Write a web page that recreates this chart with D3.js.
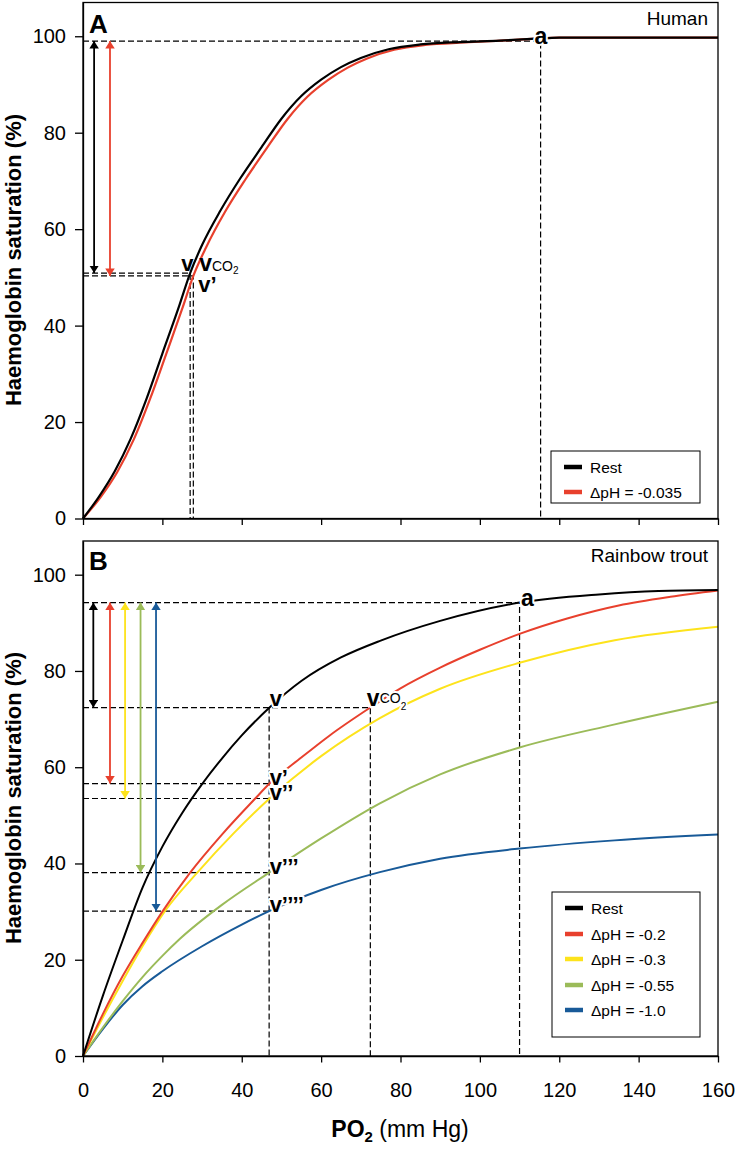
<!DOCTYPE html>
<html><head><meta charset="utf-8">
<script src="https://cdn.jsdelivr.net/npm/d3@7"></script>
<style>
html,body{margin:0;padding:0;background:#fff;}
text{font-family:"Liberation Sans",Arial,Helvetica,sans-serif;}
</style></head>
<body>
<svg id="chart" width="736" height="1149"></svg>
<script>
// ---------------- DATA ----------------
const xTicks = [0,20,40,60,80,100,120,140,160];
const yTicks = [0,20,40,60,80,100];

// Panel A – Human
const humanRestPO2 = [0,4,8,12,16,20,24,27,30,34.6,39.6,45,50,55,60,65,70,77,85,95,105,114,120,160];
const humanRestSat = [0,4.5,9.8,16.5,24.8,34.2,43.5,50.9,56.7,63.8,70.5,77.0,82.9,87.6,91.0,93.6,95.5,97.3,98.3,98.8,99.1,99.5,99.7,99.7];
const humanAcidPO2 = [0,4.4,8.6,12.8,16.9,21,25,27.8,31,35.8,41,46.4,51.5,56.6,61.7,66.7,71.6,78.4,86.2,96,105.5,114,120,160];
const humanAcidSat = [0,4.4,9.6,16.4,24.8,34.2,43.5,50.3,56.2,63.6,70.4,76.9,82.8,87.5,90.9,93.5,95.4,97.2,98.2,98.7,99.1,99.5,99.7,99.7];
const humanLegend = ["Rest","ΔpH = -0.035"];
const humanA = [115.3, 99.0];               // arterial point
const humanV = [[27.0, 50.9],[27.8, 50.3]]; // venous points (rest, acid)
const humanArrowPO2 = [2.8, 6.8];

// Panel B – Rainbow trout
const troutRestPO2 = [0,5,10,15,20,25,30,35,40,47,55,65,75,90,110,130,145,160];
const troutRestSat = [0,12.5,24,35,43.5,50.5,56.5,61.8,66.6,72.4,77.9,82.8,86.3,90.4,94.2,95.9,96.6,96.8];
const troutPH02PO2 = [0,5,10,15,20,27,35,43.4,47,55,62,72.4,80,90,100,110,122,135,148,160];
const troutPH02Sat = [0,8.7,16.6,23.5,30.0,38.1,46,53.5,56.6,62,66.5,72.4,76.4,80.7,84.4,87.7,90.9,93.6,95.4,96.7];
const troutPH03PO2 = [0,5,10,15,20.9,28.8,38,47,60,74.8,90,110,134,160];
const troutPH03Sat = [0,8,15.6,22.8,30.4,38.1,46.3,53.5,62.3,70.2,76.3,81.7,86.4,89.2];
const troutPH055PO2 = [0,5,10,15,20,24.5,35,46.9,60,74.8,90,110,134,160];
const troutPH055Sat = [0,5.9,11.4,16.4,20.8,24.4,31.4,38.1,45.2,52.5,58.5,64.1,68.9,73.6];
const troutPH10PO2 = [0,5,10,15,20,30,40,46.9,60,74.8,90,110,134,160];
const troutPH10Sat = [0,5.6,10.6,14.5,17.6,22.8,27.3,30.1,34.5,38.2,41,43.1,44.8,46];
const troutLegend = ["Rest","ΔpH = -0.2","ΔpH = -0.3","ΔpH = -0.55","ΔpH = -1.0"];
const troutA = [110, 94.2];
const troutVPO2 = 46.9;
const troutVSat = [72.4, 56.6, 53.5, 38.1, 30.1]; // v, v', v'', v''', v''''
const troutVLabels = ["v","v’","v’’","v’’’","v’’’’"];
const troutVCO2 = [72.4, 72.4];
const troutArrowPO2 = [2.6, 6.8, 10.6, 14.5, 18.4];

const colors = ["#000000","#e8402d","#fde31c","#9bbb59","#185a98"];

// ---------------- DRAW ----------------
const svg = d3.select("#chart");
svg.append("rect").attr("width",736).attr("height",1149).attr("fill","#fff");

const x = d3.scaleLinear().domain([0,160]).range([83,718]);
const yA = d3.scaleLinear().domain([0,107]).range([518.5,2.5]);
const yB = d3.scaleLinear().domain([0,107]).range([1056,541]);

const defs = svg.append("defs");
colors.forEach((c,i)=>{
  defs.append("marker").attr("id","ah"+i)
    .attr("viewBox","0 0 10 10").attr("refX",10).attr("refY",5)
    .attr("markerUnits","userSpaceOnUse").attr("markerWidth",7.5).attr("markerHeight",9.5)
    .attr("orient","auto-start-reverse").attr("preserveAspectRatio","none")
    .append("path").attr("d","M0,0L10,5L0,10Z").attr("fill",c);
});

function zip(xs,ys){return xs.map((d,i)=>[d,ys[i]]);}
const FONT = '"Liberation Sans",Arial,Helvetica,sans-serif';

function dashed(g, pts){
  g.append("path").attr("d", d3.line()(pts)).attr("fill","none")
   .attr("stroke","#000").attr("stroke-width",1.2).attr("stroke-dasharray","6,3");
}
function curve(g, y, xs, ys, color, w){
  const line = d3.line().x(d=>x(d[0])).y(d=>y(d[1])).curve(d3.curveMonotoneX);
  g.append("path").datum(zip(xs,ys)).attr("d",line).attr("fill","none")
   .attr("stroke",color).attr("stroke-width",w).attr("stroke-linejoin","round");
}
function arrow(g, px, y1, y2, ci){
  g.append("line").attr("x1",px).attr("x2",px).attr("y1",y1).attr("y2",y2)
   .attr("stroke",colors[ci]).attr("stroke-width",1.8)
   .attr("marker-start","url(#ah"+ci+")").attr("marker-end","url(#ah"+ci+")");
}
function halo(t){
  t.attr("stroke","#fff").attr("stroke-width",4).attr("paint-order","stroke").attr("stroke-linejoin","round");
}
function label(g, tx, ty, txt, size, useHalo){
  const t = g.append("text").attr("x",tx).attr("y",ty).attr("font-size",size)
    .attr("font-weight","bold").attr("fill","#000").text(txt);
  if(useHalo) halo(t);
  return t;
}
function vco2(g, tx, ty, raise, useHalo){
  const t = g.append("text").attr("x",tx).attr("y",ty).attr("fill","#000");
  if(useHalo) halo(t);
  t.append("tspan").attr("font-size",23).attr("font-weight","bold").text("v");
  t.append("tspan").attr("font-size",14).attr("dy",-raise).text("CO");
  t.append("tspan").attr("font-size",10).attr("dy",raise+3.5).text("2");
}
function axes(g, y, yBottom, showXLabels){
  const ay = g.append("g").attr("transform","translate(83,0)")
    .call(d3.axisLeft(y).tickValues(yTicks).tickSize(8).tickSizeOuter(0).tickPadding(9));
  const ax = g.append("g").attr("transform",`translate(0,${yBottom})`)
    .call(d3.axisBottom(x).tickValues(xTicks).tickSize(6.5).tickSizeOuter(0).tickPadding(20)
      .tickFormat(showXLabels ? d3.format("d") : ()=>""));
  [ay,ax].forEach(a=>{
    a.selectAll("text").attr("font-size",20).attr("font-family",FONT).attr("fill","#000");
    a.selectAll("line,path").attr("stroke","#000").attr("stroke-width",1.3);
  });
}
function frame(g, y){
  g.append("rect").attr("x",x(0)).attr("y",y(107)).attr("width",x(160)-x(0)).attr("height",y(0)-y(107))
   .attr("fill","none").attr("stroke","#000").attr("stroke-width",1.3);
}
function legend(g, bx, by, bw, bh, items, ys, cols){
  g.append("rect").attr("x",bx).attr("y",by).attr("width",bw).attr("height",bh)
    .attr("fill","#fff").attr("stroke","#000").attr("stroke-width",1);
  items.forEach((it,i)=>{
    g.append("line").attr("x1",bx+13).attr("x2",bx+31).attr("y1",ys[i]).attr("y2",ys[i])
      .attr("stroke",cols[i]).attr("stroke-width",4.5);
    g.append("text").attr("x",bx+39).attr("y",ys[i]+5.5).attr("font-size",15.5).attr("fill","#000").text(it);
  });
}
function yTitle(g, cy){
  g.append("text").attr("transform",`translate(21,${cy}) rotate(-90)`).attr("text-anchor","middle")
   .attr("font-size",22).attr("font-weight","bold").attr("fill","#000").text("Haemoglobin saturation (%)");
}

// ---- Panel A ----
const gA = svg.append("g");
dashed(gA, [[x(0),yA(humanA[1])],[x(humanA[0]),yA(humanA[1])],[x(humanA[0]),yA(0)]]);
dashed(gA, [[x(0),yA(humanV[0][1])],[x(humanV[0][0]),yA(humanV[0][1])],[x(humanV[0][0]),yA(0)]]);
dashed(gA, [[x(0),yA(humanV[1][1])],[x(humanV[1][0]),yA(humanV[1][1])],[x(humanV[1][0]),yA(0)]]);
curve(gA, yA, humanAcidPO2, humanAcidSat, colors[1], 2.2);
curve(gA, yA, humanRestPO2, humanRestSat, colors[0], 2.2);
arrow(gA, x(humanArrowPO2[0]), yA(humanA[1]), yA(humanV[0][1]), 0);
arrow(gA, x(humanArrowPO2[1]), yA(humanA[1]), yA(humanV[1][1]), 1);
label(gA, x(humanA[0])-6, yA(humanA[1])+2.5, "a", 23, true);
label(gA, x(humanV[0][0])-9, yA(humanV[0][1])-2.5, "v", 22, false);
vco2(gA, x(humanV[0][0])+9, yA(humanV[0][1])-2.5, 0, false);
label(gA, x(humanV[1][0])+5, yA(humanV[1][1])+16.5, "v’", 22, false);
label(gA, 89, 33, "A", 26, false);
gA.append("text").attr("x",708).attr("y",25).attr("text-anchor","end").attr("font-size",19).attr("fill","#000").text("Human");
legend(gA, 551, 451, 149, 52, humanLegend, [467,492], colors.slice(0,2));
frame(gA, yA);
axes(gA, yA, yA(0), false);
yTitle(gA, 260);

// ---- Panel B ----
const gB = svg.append("g");
dashed(gB, [[x(0),yB(troutA[1])],[x(troutA[0]),yB(troutA[1])],[x(troutA[0]),yB(0)]]);
dashed(gB, [[x(0),yB(troutVCO2[1])],[x(troutVCO2[0]),yB(troutVCO2[1])],[x(troutVCO2[0]),yB(0)]]);
dashed(gB, [[x(troutVPO2),yB(troutVSat[0])],[x(troutVPO2),yB(0)]]);
troutVSat.slice(1).forEach(s=>dashed(gB, [[x(0),yB(s)],[x(troutVPO2),yB(s)]]));
curve(gB, yB, troutPH10PO2, troutPH10Sat, colors[4], 2);
curve(gB, yB, troutPH055PO2, troutPH055Sat, colors[3], 2);
curve(gB, yB, troutPH03PO2, troutPH03Sat, colors[2], 2);
curve(gB, yB, troutPH02PO2, troutPH02Sat, colors[1], 2);
curve(gB, yB, troutRestPO2, troutRestSat, colors[0], 2);
troutArrowPO2.forEach((p,i)=>arrow(gB, x(p), yB(troutA[1]), yB(troutVSat[i]), i));
label(gB, x(troutA[0])+1.5, yB(troutA[1])+3, "a", 23, true);
troutVLabels.forEach((t,i)=>{
  const off = [-1.5, 1, 1, 1, 1][i];
  label(gB, x(troutVPO2)+0.5, yB(troutVSat[i])+off, t, 22, true);
});
vco2(gB, x(troutVCO2[0])-3.5, yB(troutVCO2[1])-1.5, 3, true);
label(gB, 89, 570, "B", 26, false);
gB.append("text").attr("x",708).attr("y",562).attr("text-anchor","end").attr("font-size",19).attr("fill","#000").text("Rainbow trout");
legend(gB, 552, 892, 148, 145, troutLegend, [908,934,959,985,1010], colors);
frame(gB, yB);
axes(gB, yB, yB(0), true);
yTitle(gB, 798);

// x-axis title
const xt = svg.append("text").attr("x",400).attr("y",1137).attr("text-anchor","middle").attr("fill","#000");
xt.append("tspan").attr("font-size",23).attr("font-weight","bold").text("PO");
xt.append("tspan").attr("font-size",15).attr("font-weight","bold").attr("dy",5).text("2");
xt.append("tspan").attr("font-size",23).attr("dy",-5).text(" (mm Hg)");
</script>
</body></html>
